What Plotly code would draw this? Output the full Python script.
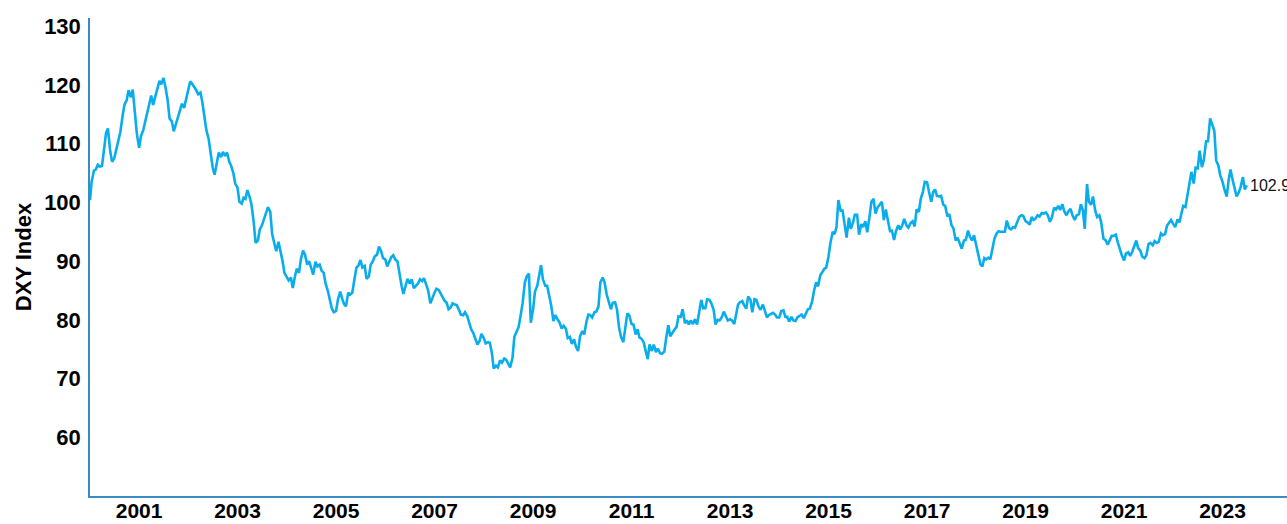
import pandas as pd
import plotly.graph_objects as go

# Semi-monthly DXY readings (1st and 15th of each month)
dxy_2000 = [100.4, 103.5, 105.4, 105.6, 106.4, 106.1, 106.2, 109.2, 111.8, 112.6, 108.7, 106.9,
            107.5, 108.9, 110.8, 112.0, 114.8, 116.7, 117.4, 119.1, 117.9, 119.2, 115.3, 111.8]
dxy_2001 = [109.3, 111.3, 112.3, 113.6, 114.8, 116.3, 118.2, 116.6, 117.9, 119.4, 120.7, 120.1,
            121.2, 119.7, 117.4, 114.3, 113.8, 112.1, 113.4, 114.6, 116.0, 116.8, 116.1, 117.7]
dxy_2002 = [119.4, 120.6, 120.1, 119.7, 119.1, 118.4, 118.7, 117.1, 114.6, 112.3, 110.8, 108.7,
            105.9, 104.7, 107.2, 108.5, 107.7, 108.6, 107.9, 108.5, 106.9, 106.2, 105.0, 103.2]
dxy_2003 = [102.5, 100.1, 99.8, 100.8, 100.6, 102.1, 100.9, 99.6, 96.6, 93.1, 93.5, 95.4,
            96.1, 97.1, 98.1, 99.2, 98.4, 94.6, 93.0, 91.7, 93.3, 92.0, 90.0, 88.0]
dxy_2004 = [87.4, 86.7, 87.2, 85.4, 87.3, 88.7, 88.0, 90.3, 91.8, 91.1, 89.4, 90.0,
            88.8, 87.7, 89.9, 89.1, 89.4, 88.4, 88.0, 86.2, 84.9, 83.3, 81.9, 81.3]
dxy_2005 = [81.5, 83.5, 84.8, 83.6, 82.7, 82.3, 84.6, 84.3, 84.6, 86.6, 88.9, 89.2,
            90.2, 88.9, 89.2, 87.0, 87.4, 89.4, 90.0, 90.8, 91.1, 92.5, 91.7, 90.5]
dxy_2006 = [90.3, 89.1, 90.0, 90.7, 91.0, 90.3, 90.0, 87.9, 85.9, 84.4, 86.0, 87.0,
            86.2, 86.9, 85.4, 85.8, 86.2, 86.9, 86.6, 87.1, 85.7, 85.0, 82.8, 83.7]
dxy_2007 = [84.6, 85.3, 85.1, 84.5, 83.9, 83.3, 82.9, 81.8, 82.1, 82.8, 82.6, 82.5,
            81.7, 80.9, 80.8, 81.3, 80.6, 79.5, 78.3, 77.8, 76.7, 75.8, 76.4, 77.6]
dxy_2008 = [76.9, 76.0, 76.2, 76.1, 74.4, 71.7, 72.2, 71.9, 73.1, 72.7, 73.4, 73.2,
            72.5, 71.9, 73.5, 77.1, 78.0, 78.7, 80.8, 82.8, 86.4, 87.4, 87.9, 79.5]
dxy_2009 = [81.8, 84.8, 85.8, 87.9, 89.3, 86.9, 85.8, 85.8, 84.3, 82.5, 79.8, 80.8,
            80.1, 79.6, 78.5, 79.0, 78.5, 76.9, 77.1, 75.9, 76.7, 75.4, 74.7, 77.2]
dxy_2010 = [78.1, 77.5, 79.7, 80.9, 80.8, 80.4, 81.3, 81.4, 82.3, 86.4, 87.2, 86.4,
            84.3, 83.0, 81.8, 82.9, 83.0, 81.8, 78.6, 77.1, 76.2, 78.5, 81.1, 80.8]
dxy_2011 = [79.3, 79.2, 77.5, 78.4, 77.0, 76.8, 76.2, 74.8, 73.3, 75.8, 74.7, 75.8,
            74.5, 75.1, 74.3, 74.2, 74.6, 76.9, 79.1, 77.2, 77.7, 78.3, 78.8, 80.6]
dxy_2012 = [80.5, 81.8, 79.4, 79.9, 79.2, 79.9, 79.3, 80.1, 79.2, 81.3, 83.4, 82.0,
            82.0, 83.5, 83.4, 82.8, 81.7, 79.2, 80.0, 79.9, 80.5, 81.4, 80.5, 79.9]
dxy_2013 = [80.1, 79.9, 79.3, 81.1, 82.6, 83.0, 83.2, 82.5, 81.9, 84.0, 83.4, 81.3,
            83.5, 83.4, 82.2, 81.7, 82.6, 81.6, 80.4, 80.8, 81.0, 81.2, 80.9, 80.4]
dxy_2014 = [80.4, 81.5, 81.6, 80.5, 80.5, 79.7, 80.5, 79.9, 79.8, 80.4, 80.7, 80.9,
            80.3, 80.9, 81.8, 81.9, 83.1, 84.9, 86.4, 85.7, 87.6, 88.1, 88.7, 88.9]
dxy_2015 = [90.8, 93.1, 95.0, 94.6, 95.8, 100.4, 98.6, 98.6, 95.6, 94.0, 97.4, 95.5,
            96.5, 97.9, 97.9, 94.5, 96.3, 95.8, 96.8, 94.9, 97.6, 100.1, 100.6, 98.1]
dxy_2016 = [99.2, 99.6, 100.1, 97.0, 98.8, 97.1, 95.1, 95.2, 93.6, 95.1, 96.1, 95.4,
            96.1, 97.2, 96.1, 95.7, 96.5, 96.8, 95.9, 98.8, 98.4, 100.6, 101.8, 103.5]
dxy_2017 = [103.4, 101.8, 100.1, 101.8, 102.2, 101.1, 101.0, 101.1, 99.6, 99.4, 97.6, 98.0,
            96.1, 95.6, 93.5, 94.0, 93.1, 92.1, 93.5, 93.6, 95.2, 94.1, 93.5, 94.4]
dxy_2018 = [92.6, 91.1, 89.4, 89.1, 90.5, 90.3, 90.6, 90.3, 92.2, 93.8, 94.7, 95.1,
            95.0, 95.0, 95.0, 96.9, 95.6, 95.4, 95.8, 95.7, 96.9, 97.5, 97.8, 97.7]
dxy_2019 = [96.8, 96.6, 96.2, 97.5, 97.0, 97.2, 97.8, 97.6, 98.2, 98.1, 98.3, 97.8,
            96.7, 97.4, 99.1, 98.8, 99.4, 98.7, 99.7, 98.5, 97.8, 98.5, 98.9, 97.8]
dxy_2020 = [97.0, 97.8, 98.0, 99.7, 98.7, 95.5, 103.1, 100.1, 99.6, 101.0, 98.6, 97.5,
            97.8, 96.6, 93.8, 93.6, 92.8, 93.6, 94.3, 94.3, 94.5, 93.2, 91.9, 91.0]
dxy_2021 = [90.1, 91.3, 91.5, 90.9, 91.5, 92.4, 93.5, 92.2, 91.8, 90.8, 90.5, 91.0,
            92.9, 93.1, 92.7, 93.4, 93.1, 93.3, 94.7, 94.4, 94.6, 96.0, 96.6, 97.0]
dxy_2022 = [96.3, 95.8, 97.1, 96.6, 98.0, 99.4, 99.2, 101.1, 103.6, 105.2, 103.2, 105.9,
            105.8, 108.8, 106.0, 107.2, 110.4, 110.4, 114.3, 113.3, 112.2, 107.1, 106.3, 104.6]
dxy_2023 = [103.5, 102.2, 101.0, 103.8, 105.6, 104.0, 102.5, 101.0, 101.7, 102.6, 104.3, 102.2]
last_date = "2023-06-30"
last_value = 102.9

year_blocks = [dxy_2000, dxy_2001, dxy_2002, dxy_2003, dxy_2004, dxy_2005, dxy_2006, dxy_2007,
               dxy_2008, dxy_2009, dxy_2010, dxy_2011, dxy_2012, dxy_2013, dxy_2014, dxy_2015,
               dxy_2016, dxy_2017, dxy_2018, dxy_2019, dxy_2020, dxy_2021, dxy_2022, dxy_2023]

values = [v for block in year_blocks for v in block]
dates = list(pd.date_range("2000-01-01", periods=len(values), freq="SMS"))
dates[0] = pd.Timestamp("2000-01-03")
dates.append(pd.Timestamp(last_date))
values.append(last_value)

y_ticks = [60, 70, 80, 90, 100, 110, 120, 130]

line_color = "#0AADEB"
axis_color = "#3A8AC4"
font_family = "Liberation Sans, Arial, sans-serif"

fig = go.Figure()
fig.add_trace(go.Scatter(x=dates, y=values, mode="lines",
                         line=dict(color=line_color, width=2.6), hoverinfo="skip",
                         showlegend=False))

fig.add_annotation(x=dates[-1], y=values[-1], text=f"{last_value:.1f}",
                   showarrow=False, xanchor="left", yanchor="middle", xshift=1,
                   font=dict(family=font_family, size=16, color="#111111"))

fig.update_layout(
    width=1287, height=524,
    margin=dict(l=90, r=0, t=18, b=28),
    paper_bgcolor="white", plot_bgcolor="white",
    font=dict(family=font_family, color="#000000"),
)
fig.update_xaxes(
    type="date", automargin=False,
    range=["2000-01-03", "2024-04-23"],
    tick0="2001-01-01", dtick="M24", tickformat="%Y",
    showgrid=False, zeroline=False, ticks="",
    showline=True, linecolor=axis_color, linewidth=1.5,
    tickfont=dict(family=font_family, size=21, color="#000000", weight="bold"),
    ticklabelstandoff=-5,
)
fig.update_yaxes(
    automargin=False,
    range=[50, 131.4],
    tickvals=y_ticks,
    showgrid=False, zeroline=False, ticks="",
    showline=True, linecolor=axis_color, linewidth=1.5,
    tickfont=dict(family=font_family, size=22, color="#000000", weight="bold"),
    ticklabelstandoff=3,
    title=dict(text="DXY Index", standoff=6,
               font=dict(family=font_family, size=22, color="#000000", weight="bold")),
)

# remove the browser's default page margin so the figure fills the window exactly
fig.write_html("out.html",
               config={"displayModeBar": False},
               post_script="document.body.style.margin='0';document.body.style.overflow='hidden';")
